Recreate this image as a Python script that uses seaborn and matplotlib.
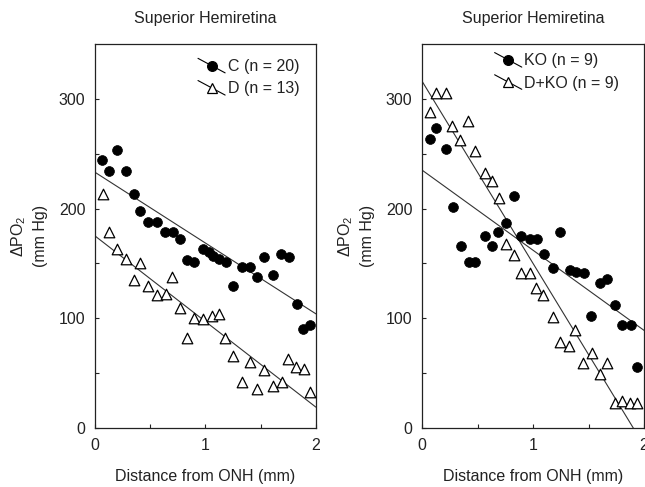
import numpy as np
import pandas as pd
import matplotlib
matplotlib.use('Agg')
import matplotlib.pyplot as plt
import seaborn as sns
from matplotlib.lines import Line2D
from matplotlib.legend_handler import HandlerBase

# values
c_x = [0.06, 0.13, 0.20, 0.28, 0.35, 0.41, 0.48, 0.56, 0.63, 0.71, 0.77, 0.83, 0.90, 0.98, 1.03,
       1.07, 1.12, 1.19, 1.25, 1.33, 1.40, 1.47, 1.53, 1.61, 1.68, 1.76, 1.83, 1.88, 1.95]
c_y = [244, 234, 253, 234, 213, 198, 188, 188, 179, 179, 172, 153, 151, 163, 160,
       157, 154, 151, 129, 147, 147, 138, 156, 139, 159, 156, 113, 90, 94]

d_x = [0.07, 0.13, 0.20, 0.28, 0.35, 0.41, 0.48, 0.56, 0.64, 0.70, 0.77, 0.83, 0.90, 0.98,
       1.06, 1.12, 1.18, 1.25, 1.33, 1.40, 1.47, 1.53, 1.61, 1.69, 1.75, 1.82, 1.89, 1.95]
d_y = [213, 179, 163, 154, 135, 150, 129, 121, 122, 138, 109, 82, 100, 99,
       102, 104, 82, 66, 42, 60, 36, 53, 38, 42, 63, 56, 54, 33]

ko_x = [0.07, 0.13, 0.22, 0.28, 0.35, 0.42, 0.48, 0.57, 0.63, 0.68, 0.76, 0.83, 0.89, 0.97,
        1.04, 1.10, 1.18, 1.24, 1.33, 1.39, 1.46, 1.52, 1.60, 1.67, 1.74, 1.80, 1.88, 1.94]
ko_y = [263, 273, 254, 201, 166, 151, 151, 175, 166, 179, 187, 211, 175, 172,
        172, 159, 146, 179, 144, 142, 141, 102, 132, 136, 112, 94, 94, 56]

dko_x = [0.07, 0.13, 0.22, 0.27, 0.34, 0.41, 0.48, 0.57, 0.63, 0.69, 0.76, 0.83, 0.89, 0.97,
         1.03, 1.09, 1.18, 1.24, 1.32, 1.38, 1.45, 1.53, 1.60, 1.67, 1.74, 1.80, 1.87, 1.94]
dko_y = [288, 305, 305, 275, 262, 280, 252, 232, 225, 210, 168, 158, 141, 141,
         128, 121, 101, 78, 75, 89, 59, 68, 49, 59, 23, 25, 23, 23]

# regression lines (intercept, slope)
fit_c = (233, -64.5)
fit_d = (175, -78)
fit_ko = (235, -73)
fit_dko = (316, -166)

labels_left = ['C (n = 20)', 'D (n = 13)']
labels_right = ['KO (n = 9)', 'D+KO (n = 9)']

sns.set_style('ticks')
plt.rcParams['font.family'] = ['Liberation Sans', 'DejaVu Sans']
plt.rcParams['mathtext.default'] = 'regular'
plt.rcParams['text.color'] = '#222222'
plt.rcParams['axes.labelcolor'] = '#222222'
plt.rcParams['xtick.color'] = '#222222'
plt.rcParams['ytick.color'] = '#222222'

FS = 11.5


class SlantHandler(HandlerBase):
    # legend key: marker with a slanted line through it
    def create_artists(self, legend, orig_handle, xdescent, ydescent, width, height, fontsize, trans):
        x0, x1 = -xdescent, -xdescent + width
        y0, y1 = -ydescent + height * 1.15, -ydescent - height * 0.15
        seg = Line2D([x0, x1], [y0, y1], color='black', lw=0.8, transform=trans)
        dot = Line2D([(x0 + x1) / 2], [(y0 + y1) / 2], marker=orig_handle.get_marker(),
                     markersize=orig_handle.get_markersize(),
                     markerfacecolor=orig_handle.get_markerfacecolor(),
                     markeredgecolor='black', markeredgewidth=0.9,
                     linestyle='none', transform=trans)
        return [seg, dot]


def panel(ax, x1, y1, f1, x2, y2, f2, labels, anchor):
    line_x = np.linspace(0, 2, 60)
    sns.lineplot(x=line_x, y=f1[0] + f1[1] * line_x, ax=ax, color='#333333', lw=0.8)
    sns.lineplot(x=line_x, y=f2[0] + f2[1] * line_x, ax=ax, color='#333333', lw=0.8)
    sns.scatterplot(x=x1, y=y1, ax=ax, marker='o', s=50, color='black',
                    edgecolor='black', linewidth=0.5, zorder=3)
    sns.scatterplot(x=x2, y=y2, ax=ax, marker='^', s=58, color='white',
                    edgecolor='black', linewidth=0.9, zorder=3)
    ax.set_xlim(0, 2)
    ax.set_ylim(0, 350)
    ax.set_xticks([0, 1, 2])
    ax.set_xticks([0.5, 1.5], minor=True)
    ax.set_yticks([0, 100, 200, 300])
    ax.set_yticks([50, 150, 250], minor=True)
    ax.tick_params(which='both', direction='in', length=3, width=0.8, labelsize=FS, pad=7)
    for sp in ax.spines.values():
        sp.set_linewidth(0.9)
        sp.set_color('#222222')
    ax.set_title('Superior Hemiretina', fontsize=FS, pad=15)
    ax.set_xlabel('Distance from ONH (mm)', fontsize=FS, labelpad=12)
    ax.set_ylabel('ΔPO$_2$\n(mm Hg)', fontsize=FS, labelpad=8, linespacing=1.4)
    h1 = Line2D([], [], marker='o', markersize=7, markerfacecolor='black')
    h2 = Line2D([], [], marker='^', markersize=7.5, markerfacecolor='white')
    ax.legend([h1, h2], labels, loc='upper left', bbox_to_anchor=anchor, frameon=False,
              fontsize=FS, handler_map={Line2D: SlantHandler()}, handlelength=1.7,
              handletextpad=0.15, labelspacing=0.45, borderpad=0, borderaxespad=0)


fig = plt.figure(figsize=(6.45, 4.87), dpi=100)
ax1 = fig.add_axes([0.1473, 0.121, 0.3426, 0.789])
ax2 = fig.add_axes([0.6543, 0.121, 0.3442, 0.789])

panel(ax1, c_x, c_y, fit_c, d_x, d_y, fit_d, labels_left, (0.466, 0.96))
panel(ax2, ko_x, ko_y, fit_ko, dko_x, dko_y, fit_dko, labels_right, (0.327, 0.975))

fig.savefig('out.png', dpi=100)
